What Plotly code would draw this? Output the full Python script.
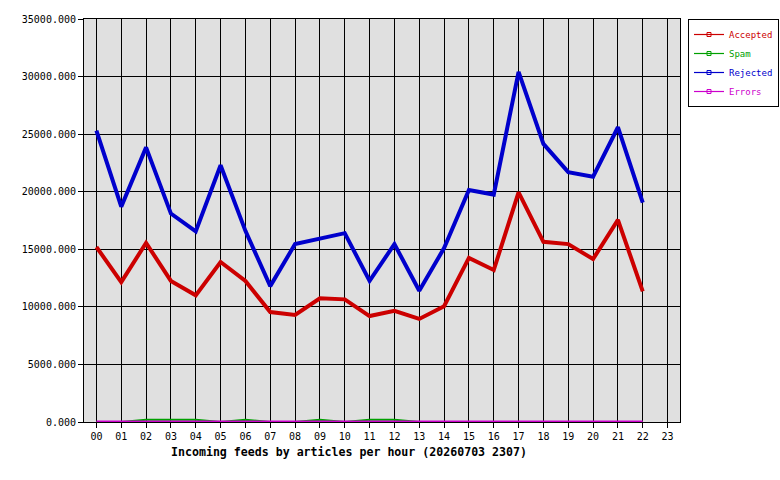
import plotly.graph_objects as go

hours = [f"{h:02d}" for h in range(24)]
hour_idx = list(range(23))  # data present for hours 00..22

accepted = [15200, 12150, 15550, 12250, 11000, 13900, 12250, 9550, 9300, 10750,
            10650, 9200, 9650, 8950, 10050, 14250, 13200, 19950, 15650, 15450,
            14150, 17550, 11350]
spam = [0, 0, 200, 200, 200, 0, 200, 0, 0, 200, 0, 200, 200, 0, 0, 0, 0, 0, 0, 0, 0, 0, 0]
rejected = [25300, 18700, 23850, 18100, 16550, 22300, 16600, 11800, 15450, 15900,
            16400, 12250, 15450, 11400, 15100, 20150, 19750, 30400, 24150, 21700,
            21300, 25600, 19050]
errors = [0] * 23

series = [
    ("Accepted", accepted, "#cc0000", 4),
    ("Spam", spam, "#00a000", 2),
    ("Rejected", rejected, "#0000cc", 4),
    ("Errors", errors, "#cc00cc", 3),
]

FONT = "DejaVu Sans Mono"
fig = go.Figure()

draw_order = [1, 0, 2, 3]
for i in draw_order:
    name, vals, color, w = series[i]
    fig.add_trace(go.Scatter(x=hour_idx, y=vals, mode="lines",
                             line=dict(color=color, width=w),
                             showlegend=False, hoverinfo="skip"))
for name, vals, color, w in series:
    fig.add_trace(go.Scatter(x=[None], y=[None], mode="lines+markers",
                             name=f"<span style='color:{color}'>{name}</span>",
                             line=dict(color=color, width=1.2),
                             marker=dict(symbol="square-open", size=4, color=color,
                                         line=dict(width=1, color=color))))

PW = 780 - 84 - 10
fig.update_layout(
    width=780, height=480,
    margin=dict(l=84, r=10, t=19, b=58, autoexpand=False),
    paper_bgcolor="white", plot_bgcolor="#e0e0e0",
    font=dict(family=FONT, size=10, color="black"),
    legend=dict(x=(688 - 84) / PW, y=1.0, xanchor="left", yanchor="top",
                bgcolor="white", bordercolor="black", borderwidth=1,
                font=dict(family=FONT, size=9), itemwidth=30,
                tracegroupgap=0),
    showlegend=True,
)
fig.update_xaxes(domain=[0, 596 / PW], range=[-0.5, 23.5], tickmode="array",
                 tickvals=list(range(24)), ticktext=hours,
                 showgrid=True, gridcolor="black", gridwidth=1,
                 showline=True, linecolor="black", linewidth=1, mirror=True,
                 ticks="outside", ticklen=5, tickcolor="black",
                 zeroline=False, tickfont=dict(family=FONT, size=10))
fig.update_yaxes(range=[0, 35000], tick0=0, dtick=5000, tickformat=".3f",
                 showgrid=True, gridcolor="black", gridwidth=1,
                 showline=True, linecolor="black", linewidth=1, mirror=True,
                 ticks="outside", ticklen=5, tickcolor="black",
                 zeroline=False, tickfont=dict(family=FONT, size=10))
fig.add_annotation(text="<b>Incoming feeds by articles per hour (20260703 2307)</b>",
                   xref="paper", yref="paper", x=(348.5 - 84) / PW, y=-0.075,
                   xanchor="center", yanchor="middle", showarrow=False,
                   font=dict(family=FONT, size=11.6, color="black"))

fig.write_html("out.html")
